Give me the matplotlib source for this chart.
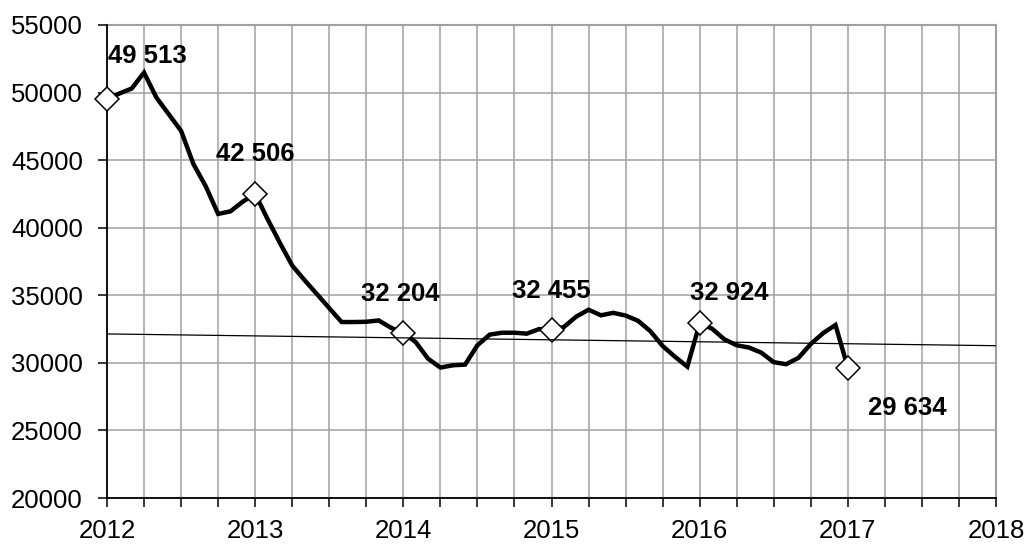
import matplotlib
matplotlib.use("Agg")
import matplotlib.pyplot as plt
import numpy as np

# Monthly values, Jan 2012 .. Jan 2017
values = [49513, 49930, 50300, 51480, 49630, 48400, 47170, 44710, 43060, 41020, 41210, 41930,
          42506, 40650, 38880, 37200, 36120, 35090, 34050, 33020, 33020, 33040, 33140, 32600,
          32204, 31540, 30310, 29650, 29820, 29870, 31300, 32090, 32230, 32230, 32160, 32500,
          32455, 32650, 33420, 33930, 33520, 33700, 33500, 33120, 32350, 31250, 30450, 29720,
          32924, 32530, 31740, 31300, 31130, 30750, 30050, 29900, 30370, 31400, 32200, 32800,
          29634]
start_year = 2012
trend_x = [2012, 2018]
trend_y = [32140, 31270]
year_labels = ["2012", "2013", "2014", "2015", "2016", "2017", "2018"]
y_ticks = [20000, 25000, 30000, 35000, 40000, 45000, 50000, 55000]
label_texts = ["49 513", "42 506", "32 204", "32 455", "32 924", "29 634"]
label_offsets = [(29, 31), (0, 29), (-2, 28), (0, 28), (21, 22), (43, -29)]

plt.rcParams['font.family'] = ['Liberation Sans', 'DejaVu Sans']

fig = plt.figure(figsize=(10.27, 5.44), dpi=100)
ax = fig.add_axes([107/1027, 1-498/544, (996-107)/1027, (498-25)/544])

x = start_year + np.arange(len(values)) / 12.0
ax.plot(x, values, color='black', lw=3.2, solid_joinstyle='miter', zorder=3, clip_on=False,
        marker='D', markevery=12, markersize=12.5, markerfacecolor='white',
        markeredgecolor='black', markeredgewidth=1.1)
ax.plot(trend_x, trend_y, color='black', lw=0.9, zorder=4)

for i, (txt, off) in enumerate(zip(label_texts, label_offsets)):
    idx = i * 12
    ax.annotate(txt, xy=(x[idx], values[idx]), xytext=off, textcoords='offset points',
                ha='center', va='center', fontsize=18.5, fontweight='bold', zorder=5)

ax.set_xlim(2012, 2018)
ax.set_ylim(20000, 55000)
quarters = np.arange(2012, 2018.001, 0.25)
ax.set_xticks(quarters)
ax.set_xticklabels([year_labels[int(round(q)) - 2012] if abs(q - round(q)) < 1e-9 else "" for q in quarters])
ax.set_yticks(y_ticks)
ax.set_yticklabels([str(v) for v in y_ticks])
ax.grid(True, color='#a0a0a0', lw=1.1, zorder=0)
ax.set_axisbelow(True)
for s in ['top', 'right']:
    ax.spines[s].set_visible(False)
ax.spines['left'].set_linewidth(1.3)
ax.spines['bottom'].set_linewidth(1.3)
ax.tick_params(axis='both', direction='out', length=6.3, width=1.1, labelsize=18.5, color='black')
ax.tick_params(axis='y', pad=11)
ax.tick_params(axis='x', pad=9)
# draw top/right border as gray grid lines
ax.axhline(55000, color='#a0a0a0', lw=1.5, zorder=0, clip_on=False)
ax.axvline(2018, color='#a0a0a0', lw=1.5, zorder=0, clip_on=False)

fig.savefig("out.png", dpi=100)
